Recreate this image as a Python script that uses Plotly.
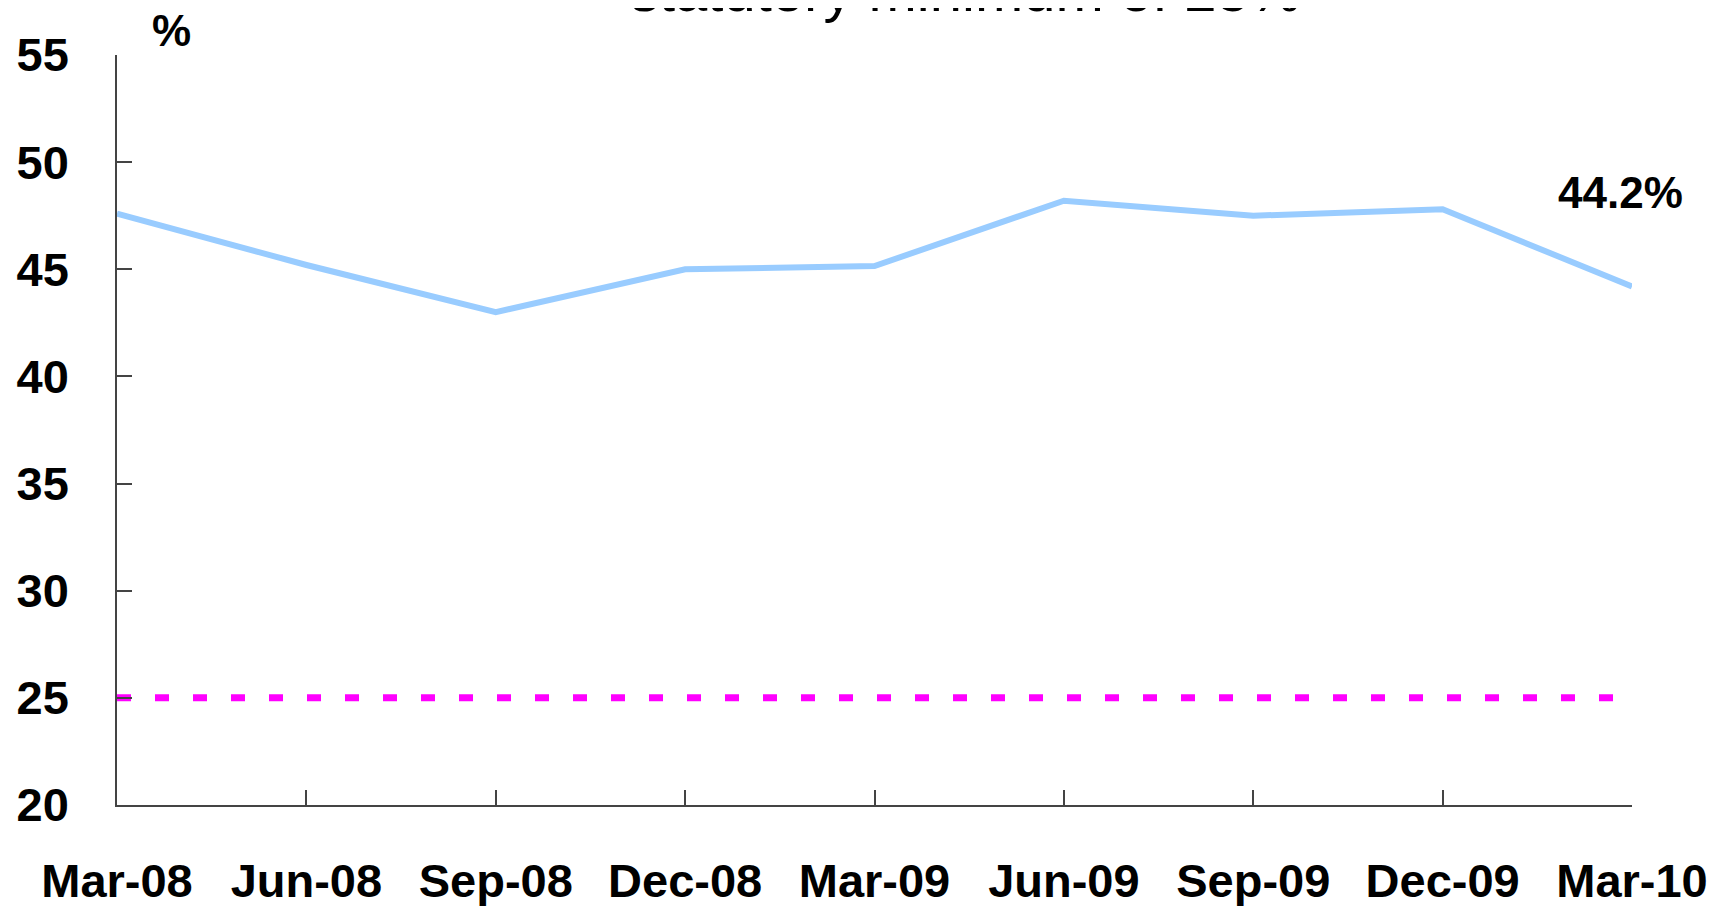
import plotly.graph_objects as go

quarters = ["Mar-08", "Jun-08", "Sep-08", "Dec-08", "Mar-09",
            "Jun-09", "Sep-09", "Dec-09", "Mar-10"]
ratio = [47.6, 45.2, 43.0, 45.0, 45.15, 48.2, 47.5, 47.8, 44.2]
minimum = [25] * len(quarters)
y_ticks = [20, 25, 30, 35, 40, 45, 50, 55]

bold = dict(family="Liberation Sans, Arial", size=47, color="black", weight="bold")

fig = go.Figure()

fig.add_trace(
    go.Scatter(
        x = quarters, y = minimum,
        mode = "lines",
        line = dict(color = "#FF00FF", width = 7, dash = "14px,24px"),
        hoverinfo = "skip"
        )
    )

fig.add_trace(
    go.Scatter(
        x = quarters, y = ratio,
        mode = "lines",
        line = dict(color = "#99CCFF", width = 6)
        )
    )

# the page body adds an 8px offset, margins allow for it
fig.update_layout(
    width = 1722, height = 906,
    margin = {"l": 109, "r": 98, "t": 47, "b": 109},
    paper_bgcolor = "white", plot_bgcolor = "white",
    showlegend = False
    )

fig.update_xaxes(
    type = "category", range = [0, 8], automargin = False,
    showline = True, linecolor = "#444", linewidth = 1.5,
    ticks = "inside", ticklen = 15, tickcolor = "#444", tickwidth = 1.5,
    showgrid = False, zeroline = False,
    tickfont = bold, ticklabelstandoff = 34
    )

fig.update_yaxes(
    range = [20, 55], tickvals = y_ticks, automargin = False,
    showline = True, linecolor = "#444", linewidth = 1.5,
    ticks = "inside", ticklen = 15, tickcolor = "#444", tickwidth = 1.5,
    showgrid = False, zeroline = False,
    tickfont = bold, ticklabelstandoff = 37
    )

fig.add_annotation(
    xref = "paper", yref = "paper", x = 0.036, y = 1.032,
    xanchor = "center", yanchor = "middle",
    text = "%", showarrow = False,
    font = dict(family="Liberation Sans, Arial", size=44, color="black", weight="bold")
    )

fig.add_annotation(
    x = 7.94, y = 48.6,
    text = "44.2%", showarrow = False,
    font = dict(family="Liberation Sans, Arial", size=44, color="black", weight="bold")
    )

fig.add_annotation(
    xref = "paper", yref = "paper", x = 0.56, y = 1.04,
    xanchor = "center", yanchor = "bottom",
    text = "statutory minimum of 25%", showarrow = False,
    font = dict(family="Liberation Sans, Arial", size=58, color="black")
    )

fig.write_html("out.html")
